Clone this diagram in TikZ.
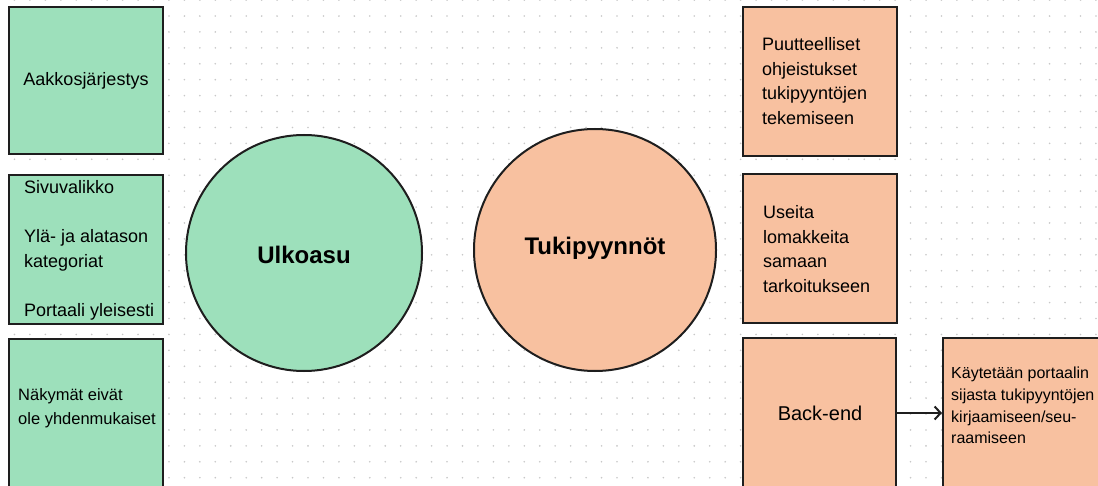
\documentclass[tikz,border=0pt]{standalone}
\usepackage{fontspec}
\setmainfont{Liberation Sans}
\usetikzlibrary{arrows.meta}
\definecolor{gfill}{HTML}{9DE0BB}
\definecolor{ofill}{HTML}{F8C1A0}
\definecolor{edgec}{HTML}{1E1E1E}
\definecolor{dotc}{HTML}{C8C8C8}
\begin{document}
\begin{tikzpicture}[x=1pt,y=-1pt,
  boxnode/.style={draw=edgec,line width=2pt,inner sep=0pt,minimum width=154pt},
  circnode/.style={circle,draw=edgec,line width=2pt,inner sep=0pt},
  lbl/.style={inner sep=0pt,font=\fontsize{18}{24.5}\selectfont},
  smalllbl/.style={inner sep=0pt,font=\fontsize{16}{21.7}\selectfont},
  biglbl/.style={inner sep=0pt,font=\fontsize{24}{28}\selectfont\bfseries},
  arr/.style={draw=edgec,line width=2pt,-{Straight Barb[length=6pt,width=13pt,line width=2pt]}}]
\useasboundingbox (0,0) rectangle (1098,486);
\clip (0,0) rectangle (1098,486);
\fill[white] (0,0) rectangle (1098,486);
\foreach \i in {0,...,70}{
  \foreach \j in {0,...,30}{
    \fill[dotc] ({14.45+15.45*\i},{0.1+15.92*\j}) circle (0.9pt);
  }
}
% left boxes
\node[boxnode,fill=gfill,minimum height=147pt] (g1) at (86,80.5) {};
\node[boxnode,fill=gfill,minimum height=149pt] (g2) at (86,249.5) {};
\node[boxnode,fill=gfill,minimum height=161pt] (g3) at (86,419.5) {};
% right boxes
\node[boxnode,fill=ofill,minimum height=149pt] (o1) at (820,81.5) {};
\node[boxnode,fill=ofill,minimum height=149pt] (o2) at (820,248.5) {};
\node[boxnode,fill=ofill,minimum width=153pt,minimum height=162pt] (o3) at (819.5,419) {};
\node[boxnode,fill=ofill,minimum width=167pt,minimum height=162pt] (o4) at (1026.5,419) {};
% circles
\node[circnode,fill=gfill,minimum size=236pt] (c1) at (304,253) {};
\node[circnode,fill=ofill,minimum size=242pt] (c2) at (595,250) {};
% texts
\node[lbl] (t1) at (86,81) {Aakkosjärjestys};
\node[lbl,anchor=west,align=left] (t2) at (24,250.5)
  {Sivuvalikko\\\mbox{}\\Ylä- ja alatason\\kategoriat\\\mbox{}\\Portaali yleisesti};
\node[inner sep=0pt,font=\fontsize{16.5}{23.5}\selectfont,anchor=west,align=left] (t3) at (18,408)
  {Näkymät eivät\\ole yhdenmukaiset};
\node[biglbl] (tc1) at (304,255) {Ulkoasu};
\node[biglbl] (tc2) at (595,248) {Tukipyynnöt};
\node[lbl,anchor=west,align=left] (t4) at (762,81)
  {Puutteelliset\\ohjeistukset\\tukipyyntöjen\\tekemiseen};
\node[lbl,anchor=west,align=left] (t5) at (763,249)
  {Useita\\lomakkeita\\samaan\\tarkoitukseen};
\node[inner sep=0pt,font=\fontsize{20}{24}\selectfont] (t6) at (820,413) {Back-end};
\node[smalllbl,anchor=west,align=left] (t7) at (951,405.5)
  {Käytetään portaalin\\sijasta tukipyyntöjen\\kirjaamiseen/seu-\\raamiseen};
% arrow
\draw[arr] ([yshift=6pt]o3.east) -- ([yshift=6pt]o4.west);
\end{tikzpicture}
\end{document}
